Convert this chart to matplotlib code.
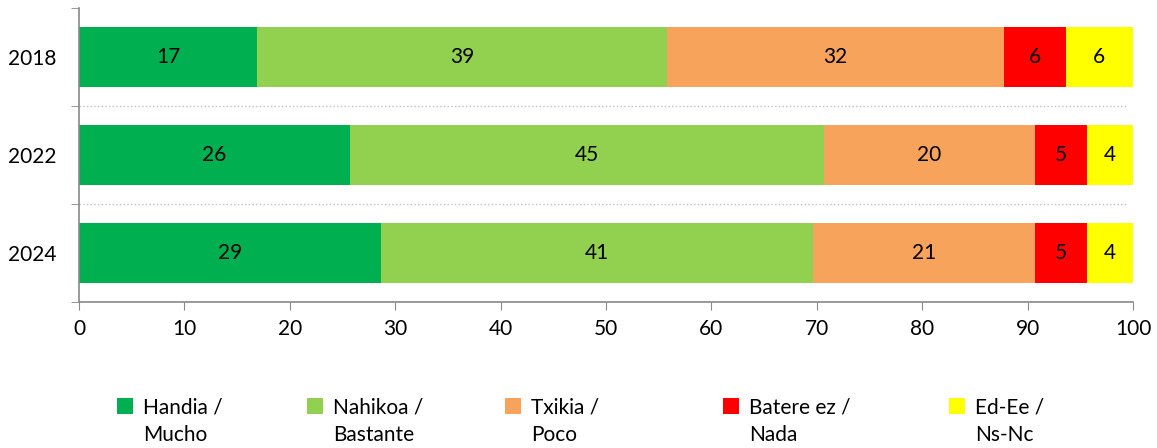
import numpy as np
import matplotlib.pyplot as plt
from matplotlib.patches import Rectangle

years = ["2018", "2022", "2024"]
categories = ["Handia /\nMucho", "Nahikoa /\nBastante", "Txikia /\nPoco", "Batere ez /\nNada", "Ed-Ee /\nNs-Nc"]
colors = ["#00b050", "#92d050", "#f7a35c", "#ff0000", "#ffff00"]
# segment widths per year (order: Handia, Nahikoa, Txikia, Batere ez, Ed-Ee)
values = {
    "2018": [16.9, 38.9, 32.0, 5.8, 6.4],
    "2022": [25.7, 45.0, 20.0, 4.9, 4.4],
    "2024": [28.7, 40.9, 21.1, 4.9, 4.4],
}

plt.rcParams["font.family"] = ["Lato", "DejaVu Sans"]
W, H = 1157, 448

fig = plt.figure(figsize=(W / 100, H / 100), dpi=100)
ax = fig.add_axes([79 / W, 1 - 302 / H, (1133 - 79) / W, (302 - 8) / H])

y = np.arange(len(years))
left = np.zeros(len(years))
for i, cat in enumerate(categories):
    vals = np.array([values[yr][i] for yr in years])
    bars = ax.barh(y, vals, left=left, height=0.62, color=colors[i], edgecolor="none")
    for b, v in zip(bars, vals):
        ax.text(b.get_x() + b.get_width() / 2, b.get_y() + b.get_height() / 2,
                f"{v:.0f}", ha="center", va="center", fontsize=15, color="black")
    left += vals

ax.set_xlim(0, 100)
ax.set_ylim(2.5, -0.5)
ax.set_yticks(y)
ax.set_yticklabels(years, fontsize=15)
ax.set_yticks([-0.5, 0.5, 1.5, 2.5], minor=True)
ax.tick_params(axis="y", which="major", length=0, pad=16)
ax.tick_params(axis="y", which="minor", length=6, color="#888888", direction="out")
ax.set_xticks(range(0, 101, 10))
ax.tick_params(axis="x", length=6, color="#888888", labelsize=15, pad=6)

for yy in [0.5, 1.5]:
    ax.axhline(yy, color="#c0c0c0", linestyle=":", linewidth=1, xmax=0.995)

for s in ["top", "right"]:
    ax.spines[s].set_visible(False)
for s in ["left", "bottom"]:
    ax.spines[s].set_color("#888888")
    ax.spines[s].set_linewidth(1.2)

# legend, laid out like the Excel original (box beside the first line)
leg_x = [117, 307, 505, 723, 949]
for x0, cat, c in zip(leg_x, categories, colors):
    fig.add_artist(Rectangle((x0 / W, 1 - 414 / H), 16 / W, 16 / H,
                             transform=fig.transFigure, facecolor=c, edgecolor="none"))
    fig.text((x0 + 26) / W, 1 - 398 / H, cat, fontsize=15, ha="left", va="top",
             linespacing=1.45)

fig.savefig("out.png", dpi=100)
